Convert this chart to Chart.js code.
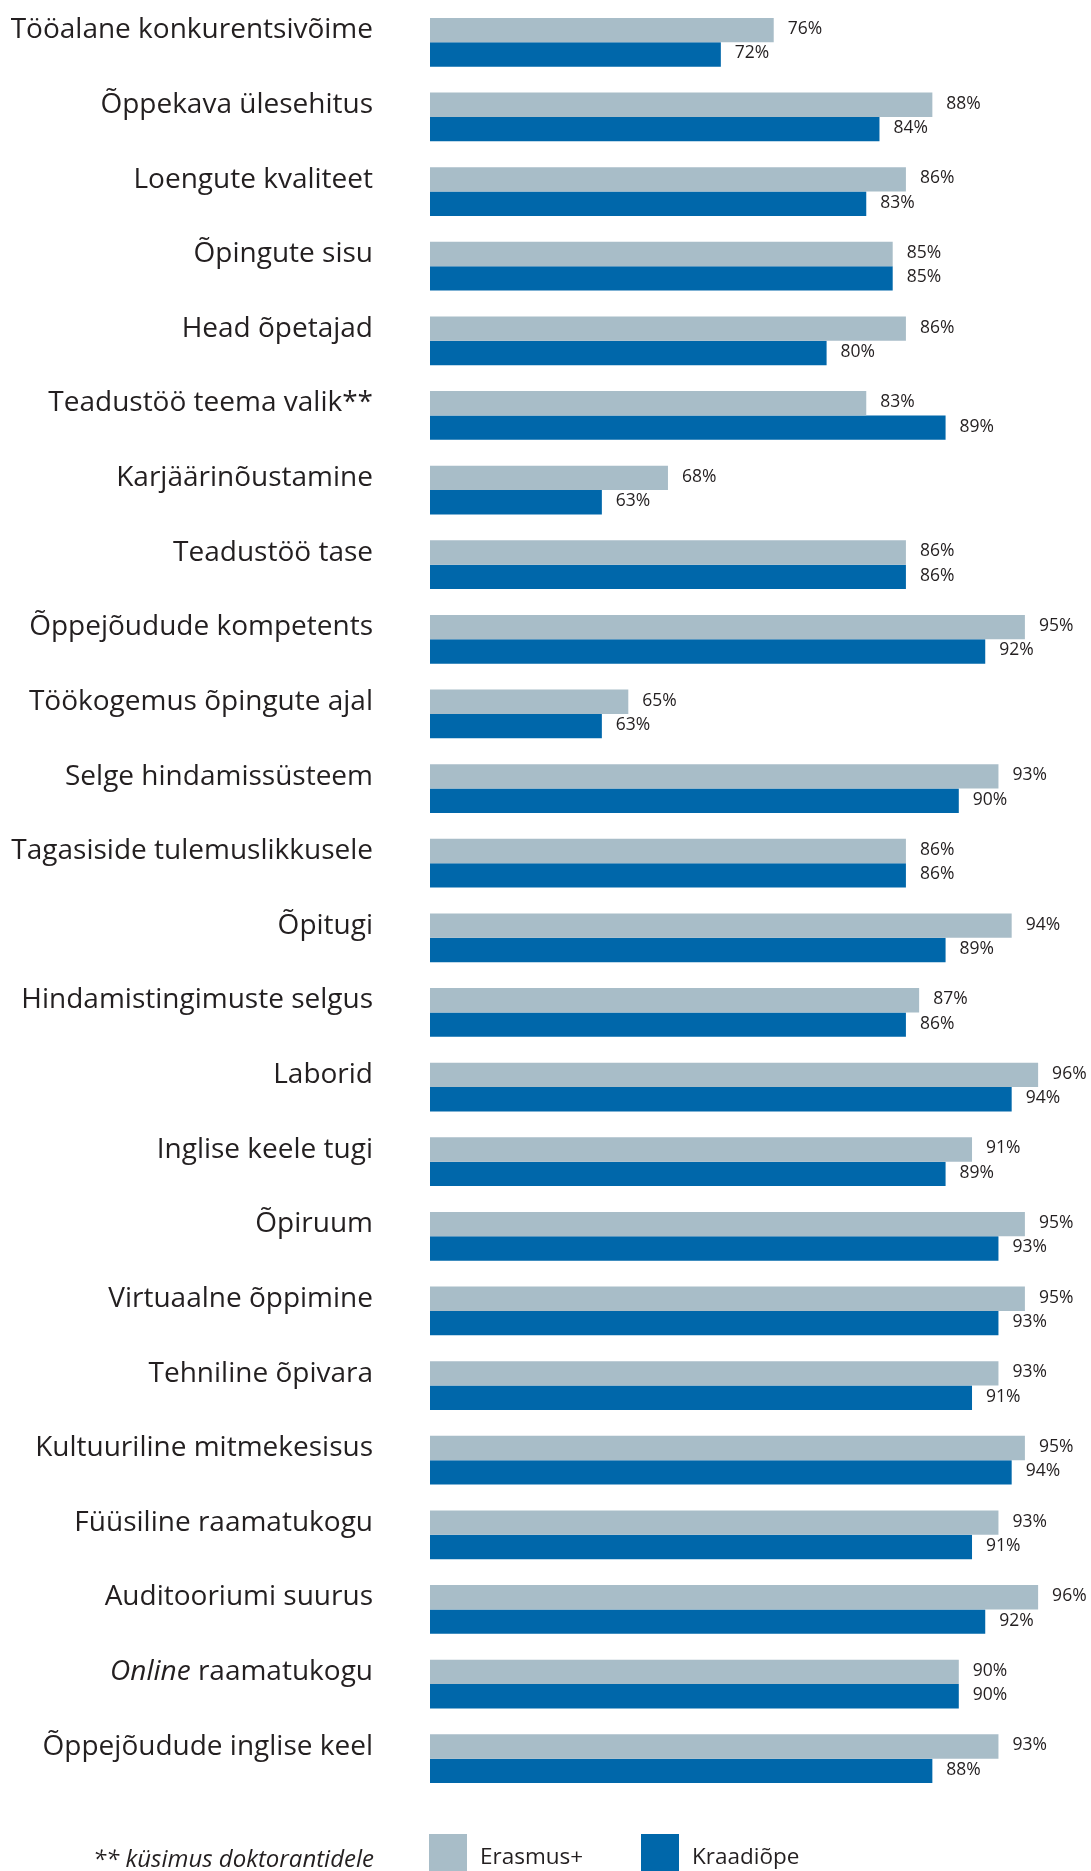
<!DOCTYPE html>
<html lang="et">
<head>
<meta charset="utf-8">
<title>Erasmus+ ja kraadiõpe</title>
<script src="https://cdn.jsdelivr.net/npm/chart.js@4/dist/chart.umd.min.js"></script>
<style>
    html, body { margin: 0; padding: 0; background: #fff; }
    #wrap { position: relative; width: 1091px; height: 1871px; }
</style>
</head>
<body>
<div id="wrap"><canvas id="surveyChart"></canvas></div>
<script>
// Categories, top to bottom
const categories = [
    'Tööalane konkurentsivõime',
    'Õppekava ülesehitus',
    'Loengute kvaliteet',
    'Õpingute sisu',
    'Head õpetajad',
    'Teadustöö teema valik**',
    'Karjäärinõustamine',
    'Teadustöö tase',
    'Õppejõudude kompetents',
    'Töökogemus õpingute ajal',
    'Selge hindamissüsteem',
    'Tagasiside tulemuslikkusele',
    'Õpitugi',
    'Hindamistingimuste selgus',
    'Laborid',
    'Inglise keele tugi',
    'Õpiruum',
    'Virtuaalne õppimine',
    'Tehniline õpivara',
    'Kultuuriline mitmekesisus',
    'Füüsiline raamatukogu',
    'Auditooriumi suurus',
    'Online raamatukogu',
    'Õppejõudude inglise keel'
];

// Share of satisfied respondents, %
const erasmusValues = [76, 88, 86, 85, 86, 83, 68, 86, 95, 65, 93, 86, 94, 87, 96, 91, 95, 95, 93, 95, 93, 96, 90, 93];
const degreeValues  = [72, 84, 83, 85, 80, 89, 63, 86, 92, 63, 90, 86, 89, 86, 94, 89, 93, 93, 91, 94, 91, 92, 90, 88];

const seriesNames = ['Erasmus+', 'Kraadiõpe'];
const italicWords = ['Online'];
const footnote = '** küsimus doktorantidele';

const FONT = "'Open Sans', 'Noto Sans', sans-serif";
const TEXT_COLOR = '#231f20';
const LIGHT = '#a8bdc8';
const DARK = '#0067aa';

// Category labels on the left (with italic prefix where needed)
const categoryLabels = {
    id: 'categoryLabels',
    afterDraw(chart) {
        const ctx = chart.ctx;
        const yScale = chart.scales.y;
        const x = chart.chartArea.left - 57;
        ctx.save();
        ctx.fillStyle = TEXT_COLOR;
        ctx.textBaseline = 'middle';
        ctx.textAlign = 'right';
        categories.forEach((label, i) => {
            const y = yScale.getPixelForValue(i) - 12;
            const italic = italicWords.find(w => label.startsWith(w + ' '));
            if (italic) {
                const rest = label.slice(italic.length);
                ctx.font = `28px ${FONT}`;
                const restWidth = ctx.measureText(rest).width;
                ctx.fillText(rest, x, y);
                ctx.font = `italic 28px ${FONT}`;
                ctx.fillText(italic, x - restWidth, y);
            } else {
                ctx.font = `28px ${FONT}`;
                ctx.fillText(label, x, y);
            }
        });
        ctx.restore();
    }
};

// Percent labels after each bar
const valueLabels = {
    id: 'valueLabels',
    afterDatasetsDraw(chart) {
        const ctx = chart.ctx;
        ctx.save();
        ctx.font = `17.5px ${FONT}`;
        ctx.fillStyle = TEXT_COLOR;
        ctx.textAlign = 'left';
        ctx.textBaseline = 'middle';
        chart.data.datasets.forEach((ds, di) => {
            chart.getDatasetMeta(di).data.forEach((bar, i) => {
                ctx.fillText(ds.data[i] + '%', bar.x + 14, bar.y - 1);
            });
        });
        ctx.restore();
    }
};

// Legend and footnote at the bottom
const bottomLegend = {
    id: 'bottomLegend',
    afterDraw(chart) {
        const ctx = chart.ctx;
        const left = chart.chartArea.left;
        const top = chart.height - 37;
        ctx.save();
        const items = [
            { x: left - 1, color: LIGHT, text: seriesNames[0] },
            { x: left + 211, color: DARK, text: seriesNames[1] }
        ];
        items.forEach(it => {
            ctx.fillStyle = it.color;
            ctx.fillRect(it.x, top, 38, 40);
            ctx.fillStyle = TEXT_COLOR;
            ctx.font = `22.5px ${FONT}`;
            ctx.textAlign = 'left';
            ctx.textBaseline = 'alphabetic';
            ctx.fillText(it.text, it.x + 51, top + 30);
        });
        ctx.font = `italic 24px ${FONT}`;
        ctx.textAlign = 'right';
        ctx.fillText(footnote, left - 56, top + 33);
        ctx.restore();
    }
};

const ctx = document.getElementById('surveyChart').getContext('2d');
const surveyChart = new Chart(ctx, {
    type: 'bar',
    data: {
        labels: categories,
        datasets: [
            {
                label: seriesNames[0],
                data: erasmusValues,
                backgroundColor: LIGHT,
                borderWidth: 0,
                barPercentage: 1,
                categoryPercentage: 0.653
            },
            {
                label: seriesNames[1],
                data: degreeValues,
                backgroundColor: DARK,
                borderWidth: 0,
                barPercentage: 1,
                categoryPercentage: 0.653
            }
        ]
    },
    options: {
        indexAxis: 'y',
        responsive: true,
        maintainAspectRatio: false,
        animation: false,
        layout: {
            padding: { left: 430, right: 0, top: 5, bottom: 75 }
        },
        plugins: {
            legend: { display: false },
            tooltip: { enabled: false }
        },
        scales: {
            x: {
                display: false,
                min: 50,
                max: 100
            },
            y: {
                display: false
            }
        }
    },
    plugins: [categoryLabels, valueLabels, bottomLegend]
});
</script>
</body>
</html>
